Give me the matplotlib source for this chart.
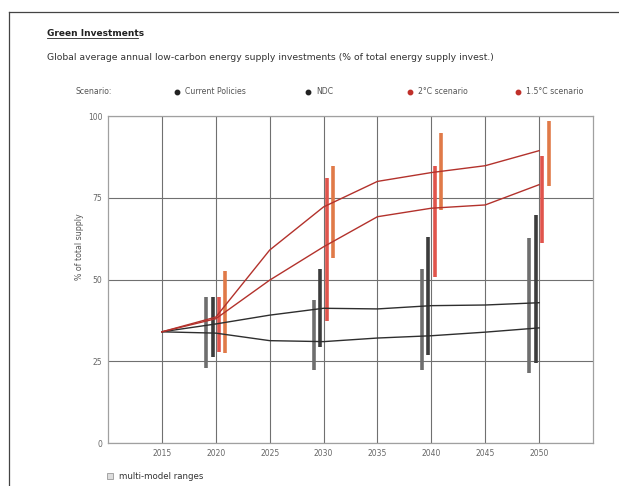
import matplotlib
matplotlib.use('Agg')
import matplotlib.pyplot as plt
from matplotlib.lines import Line2D

plt.rcParams['font.family'] = ['DejaVu Sans']

# scenario paths
years = [2015, 2020, 2025, 2030, 2035, 2040, 2045, 2050]
current_policies = [34, 33.6, 31.3, 31.0, 32.1, 32.8, 33.9, 35.2]
ndc = [34, 36.4, 39.1, 41.2, 41.0, 42.0, 42.2, 42.9]
deg2 = [34, 38.0, 49.8, 60.0, 69.2, 71.8, 72.8, 79.0]
deg15 = [34, 38.5, 59.0, 72.2, 80.0, 82.7, 84.8, 89.4]

# multi-model ranges
range_years = [2020, 2030, 2040, 2050]
cp_low = [23.0, 22.3, 22.3, 21.3]
cp_high = [44.6, 43.7, 53.2, 62.8]
ndc_low = [26.4, 29.3, 26.9, 24.5]
ndc_high = [44.6, 53.2, 63.1, 69.8]
deg2_low = [27.9, 37.2, 50.9, 61.1]
deg2_high = [44.6, 81.0, 84.6, 87.7]
deg15_low = [27.6, 56.5, 71.3, 78.7]
deg15_high = [52.7, 84.7, 94.7, 98.5]

xticks = [2015, 2020, 2025, 2030, 2035, 2040, 2045, 2050]
yticks = [0, 25, 50, 75, 100]

fig = plt.figure(figsize=(6.19, 4.86), dpi=100)
ax = fig.add_axes([108 / 619, 1 - 443 / 486, 485 / 619, 327 / 486])

line_black = '#2e2e2e'
line_red = '#b3322c'
bar_cols = ['#6e6e6e', '#3c3c3c', '#e0544c', '#e07a48']
offsets = [-0.9, -0.3, 0.3, 0.9]

ranges = [(cp_low, cp_high), (ndc_low, ndc_high),
          (deg2_low, deg2_high), (deg15_low, deg15_high)]
for (lo, hi), col, off in zip(ranges, bar_cols, offsets):
    ax.vlines([y + off for y in range_years], lo, hi, colors=col,
              linewidth=2.6, zorder=3)

ax.plot(years, current_policies, color=line_black, lw=1.0, zorder=4)
ax.plot(years, ndc, color=line_black, lw=1.0, zorder=4)
ax.plot(years, deg2, color=line_red, lw=1.0, zorder=4)
ax.plot(years, deg15, color=line_red, lw=1.0, zorder=4)

ax.set_xlim(2010, 2055)
ax.set_ylim(0, 100)
ax.set_xticks(xticks)
ax.set_yticks(yticks)
ax.tick_params(length=0, labelsize=5.5, labelcolor='#666666', pad=4)
ax.grid(True, color='#707070', lw=0.8, zorder=0)
for s in ax.spines.values():
    s.set_color('#a0a0a0')
    s.set_linewidth(0.9)

fig.text(80 / 619, 1 - 247 / 486, '% of total supply', rotation=90,
         ha='center', va='center', fontsize=5.7, color='#555555')

# outer frame
fig.add_artist(Line2D([9 / 619, 9 / 619], [0, 1 - 12 / 486],
                      transform=fig.transFigure, color='#444444', lw=0.9))
fig.add_artist(Line2D([9 / 619, 1], [1 - 12 / 486, 1 - 12 / 486],
                      transform=fig.transFigure, color='#444444', lw=0.9))

fig.text(47 / 619, 1 - 33 / 486, 'Green Investments', fontsize=6.5,
         fontweight='bold', color='#222222', va='center')
fig.add_artist(Line2D([47 / 619, 138 / 619], [1 - 38 / 486, 1 - 38 / 486],
                      transform=fig.transFigure, color='#222222', lw=0.6))
fig.text(47 / 619, 1 - 57 / 486,
         'Global average annual low-carbon energy supply investments (% of total energy supply invest.)',
         fontsize=6.7, color='#333333', va='center')

# legend row
ly = 1 - 92 / 486
fig.text(76 / 619, ly, 'Scenario:', fontsize=5.6, color='#555555', va='center')
legend_items = [(177, 'Current Policies', '#222222'), (308, 'NDC', '#222222'),
                (410, '2°C scenario', '#c0302a'), (518, '1.5°C scenario', '#c0302a')]
for px, label, col in legend_items:
    fig.add_artist(Line2D([px / 619], [ly], marker='o', markersize=3.2,
                          color=col, transform=fig.transFigure))
    fig.text((px + 8) / 619, ly, label, fontsize=5.6, color='#555555', va='center')

# bottom note
fig.add_artist(Line2D([110 / 619], [1 - 476 / 486], marker='s', markersize=4.5,
                      markerfacecolor='#dddddd', markeredgecolor='#999999',
                      markeredgewidth=0.6, transform=fig.transFigure))
fig.text(119 / 619, 1 - 476 / 486, 'multi-model ranges', fontsize=6.2,
         color='#333333', va='center')

fig.savefig('out.png', dpi=100)
